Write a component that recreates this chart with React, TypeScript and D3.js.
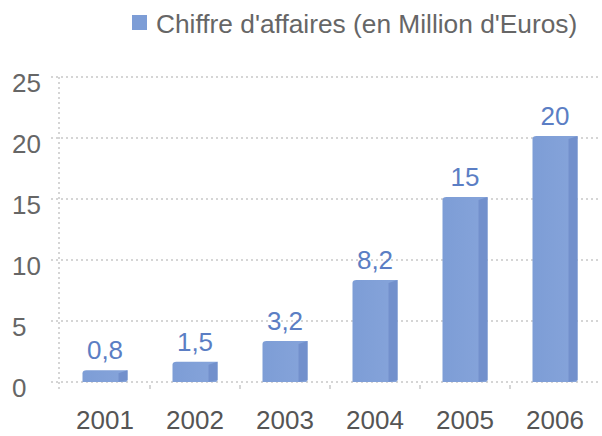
import React from "react";
import * as d3 from "d3";

const years = ["2001", "2002", "2003", "2004", "2005", "2006"];
const values = [0.8, 1.5, 3.2, 8.2, 15, 20];
const labels = ["0,8", "1,5", "3,2", "8,2", "15", "20"];
const yTicks = [0, 5, 10, 15, 20, 25];
const legendText = "Chiffre d'affaires (en Million d'Euros)";

export default function App() {
  const W = 602, H = 436;
  const x = d3.scaleBand<string>().domain(years).range([60, 600]).paddingInner(0.5).paddingOuter(0.25);
  const y = d3.scaleLinear().domain([0, 25]).range([382, 77]);
  const font = "'Liberation Sans', Arial, sans-serif";
  const side = 9;
  const step = x.step();
  return (
    <svg width={W} height={H} style={{ position: "absolute", left: 0, top: 0, background: "#fff" }} fontFamily={font}>
      <defs>
        <linearGradient id="front" x1="0" x2="1" y1="0" y2="0">
          <stop offset="0" stopColor="#7d9dd6" />
          <stop offset="1" stopColor="#86a4da" />
        </linearGradient>
        <filter id="blur" x="-20%" y="-20%" width="140%" height="140%">
          <feGaussianBlur stdDeviation="0.6" />
        </filter>
      </defs>
      {/* legend */}
      <rect x={132} y={15} width={15} height={15} fill="#7d9dd6" filter="url(#blur)" />
      <text x={156} y={33} fontSize={26.3} fill="#666">{legendText}</text>
      {/* grid */}
      {yTicks.map((t) => (
        <g key={t}>
          <line x1={51} x2={600} y1={y(t)} y2={y(t)} stroke="#c8c8c8" strokeWidth={1.5} strokeDasharray="2,3" />
          <text x={12} y={y(t) + 15} fontSize={26} fill="#666">{t}</text>
        </g>
      ))}
      <line x1={59} x2={59} y1={y(25)} y2={y(0) + 8} stroke="#c8c8c8" strokeWidth={1.5} strokeDasharray="2,3" />
      {years.slice(1).map((yr) => (
        <line key={"t" + yr} x1={x(yr)! - (step - x.bandwidth()) / 2} x2={x(yr)! - (step - x.bandwidth()) / 2} y1={y(0) + 3} y2={y(0) + 7} stroke="#c8c8c8" strokeWidth={1.5} />
      ))}
      {years.map((yr, i) => {
        const bx = x(yr)!;
        const bw = x.bandwidth();
        const top = y(values[i]) - 2;
        const bottom = y(0);
        const fw = bw - side;
        return (
          <g key={yr} filter="url(#blur)">
            <path d={`M${bx},${bottom} L${bx},${top + 3} Q${bx},${top} ${bx + 4},${top} L${bx + bw},${top} L${bx + bw},${bottom - 2} Q${bx + bw},${bottom} ${bx + bw - 3},${bottom} Z`} fill="url(#front)" />
            <path d={`M${bx + fw},${top + 3} L${bx + bw},${top} L${bx + bw},${bottom - 2} L${bx + fw},${bottom} Z`} fill="#7290cc" />
          </g>
        );
      })}
      {years.map((yr, i) => (
        <text key={"l" + yr} x={x(yr)! + x.bandwidth() / 2} y={y(values[i]) - 13} fontSize={26} fill="#5b7ec4" textAnchor="middle">{labels[i]}</text>
      ))}
      {years.map((yr) => (
        <text key={"x" + yr} x={x(yr)! + x.bandwidth() / 2} y={429} fontSize={26} fill="#555" textAnchor="middle">{yr}</text>
      ))}
    </svg>
  );
}
